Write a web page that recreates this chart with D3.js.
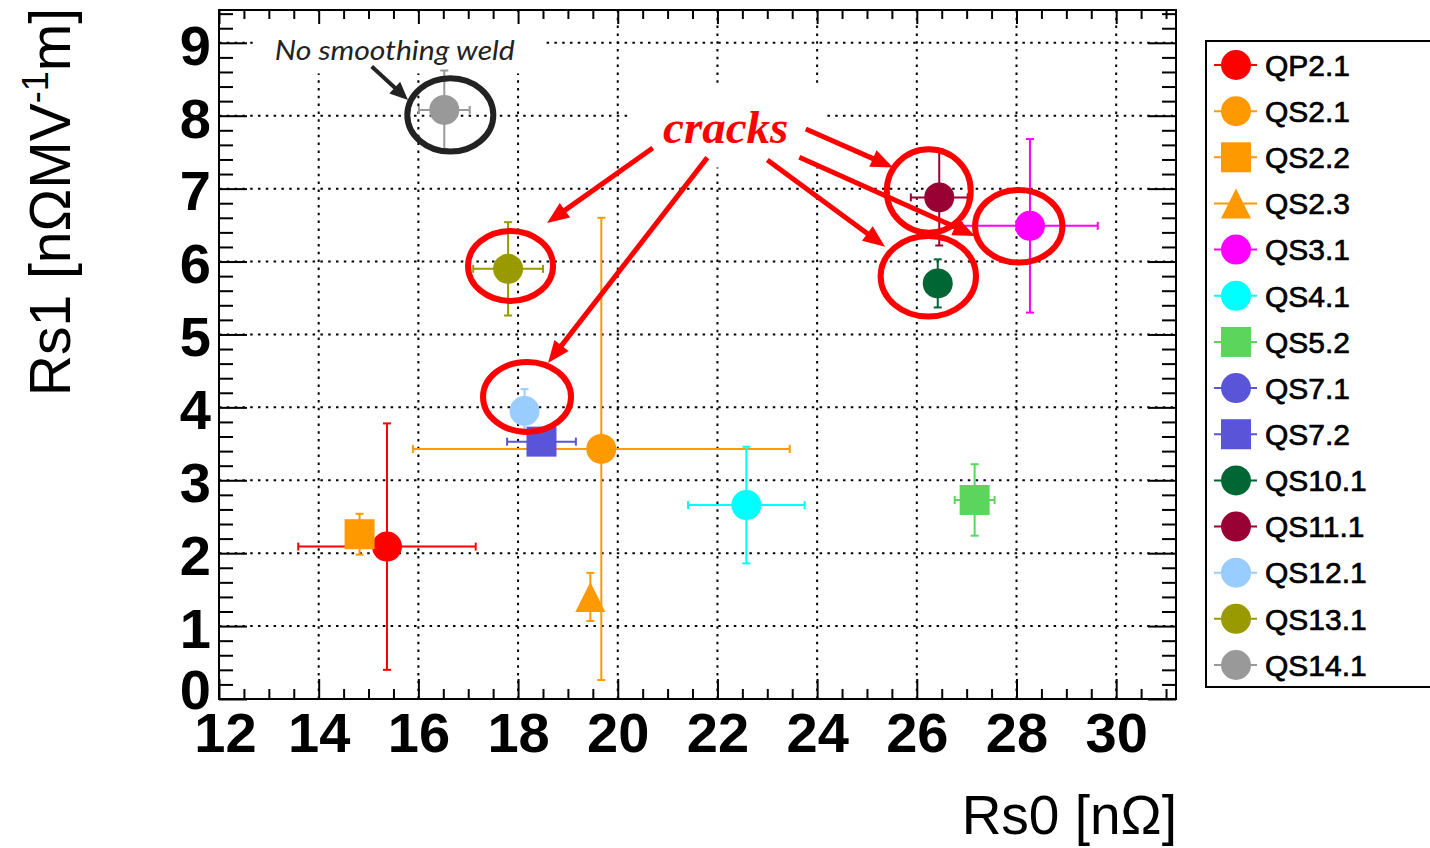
<!DOCTYPE html>
<html>
<head>
<meta charset="utf-8">
<script src="https://cdn.jsdelivr.net/npm/d3@7"></script>
<style>
  html, body { margin: 0; padding: 0; background: #ffffff; }
  svg { display: block; }
</style>
</head>
<body>
<svg id="chart" width="1430" height="848"></svg>
<script>
// ---- measured cavities: residual resistance Rs0 vs. field slope Rs1 ----
const cavities = ["QP2.1", "QS2.1", "QS2.2", "QS2.3", "QS3.1", "QS4.1", "QS5.2",
                  "QS7.1", "QS7.2", "QS10.1", "QS11.1", "QS12.1", "QS13.1", "QS14.1"];
const rs0    = [15.37, 19.67, 14.82, 19.45, 28.27, 22.58, 27.16, null, 18.47, 26.42, 26.45, 18.13, 17.80, 16.52];
const rs0Err = [ 1.78,  3.78,  0.00,  0.00,  1.36,  1.17,  0.40, null,  0.69,  0.00,  0.57,  0.00,  0.70,  0.51];
const rs1    = [ 2.09,  3.43,  2.26,  1.40,  6.49,  2.66,  2.73, null,  3.53,  5.70,  6.88,  3.95,  5.90,  8.08];
const rs1Err = [ 1.69,  3.17,  0.28,  0.33,  1.19,  0.80,  0.49, null,  0.00,  0.33,  0.66,  0.30,  0.64,  0.54];

// marker style per cavity
const colors = ["#ff0000", "#ff9900", "#ff9900", "#ff9900", "#ff00ff", "#00ffff", "#5bd55b",
                "#5a55d8", "#5a55d8", "#006633", "#990033", "#99ccff", "#999900", "#999999"];
const shapes = ["circle", "circle", "square", "triangle", "circle", "circle", "square",
                "circle", "square", "circle", "circle", "circle", "circle", "circle"];

const xTicks = [12, 14, 16, 18, 20, 22, 24, 26, 28, 30];
const yTicks = [0, 1, 2, 3, 4, 5, 6, 7, 8, 9];
const xDomain = [12, 31.2];
const yDomain = [0, 9.45];

// ---- annotations (data units) ----
const noteGroups = ["No smoothing weld", "cracks"];
const circled = [
  { x: 16.641, y: 8.011, rx: 43,   ry: 36.7, note: 0 },
  { x: 17.849, y: 5.940, rx: 42.5, ry: 35,   note: 1 },
  { x: 18.180, y: 4.143, rx: 44,   ry: 35,   note: 1 },
  { x: 26.240, y: 6.968, rx: 42,   ry: 41.7, note: 1 },
  { x: 26.231, y: 5.798, rx: 47.7, ry: 40.3, note: 1 },
  { x: 28.045, y: 6.484, rx: 43.7, ry: 36.3, note: 1 }
];
const pointers = [
  { x0: 15.064, y0: 8.674, x1: 15.792, y1: 8.217, note: 0 },
  { x0: 20.702, y0: 7.558, x1: 18.581, y1: 6.529, note: 1 },
  { x0: 21.797, y0: 7.425, x1: 18.601, y1: 4.609, note: 1 },
  { x0: 23.772, y0: 7.819, x1: 25.523, y1: 7.291, note: 1 },
  { x0: 23.643, y0: 7.431, x1: 27.168, y1: 6.351, note: 1 },
  { x0: 23.001, y0: 7.394, x1: 25.363, y1: 6.204, note: 1 }
];
const noteBoxes = [
  { x0: 12.76, x1: 18.54, y0: 8.58, y1: 9.42 },
  { x0: 20.25, x1: 24.12, y0: 7.29, y1: 8.40 }
];
const noteText = [
  { x: 13.12, y: 8.77 },
  { x: 20.91, y: 7.62 }
];
const noteColors = ["#222222", "#ff0000"];

// ---- layout ----
const svg = d3.select("#chart");
const x = d3.scaleLinear().domain(xDomain).range([219, 1176]);
const y = d3.scaleLinear().domain(yDomain).range([699, 10]);

const xMinor = d3.range(12, 31.2, 0.5).filter(v => !xTicks.includes(v));
const yMinor = d3.range(0, 9.45, 0.2).map(v => +v.toFixed(1)).filter(v => !yTicks.includes(v));

// grid
const grid = svg.append("g").attr("stroke", "#000").attr("stroke-width", 2)
  .attr("stroke-dasharray", "2.5 5.3");
grid.selectAll("line.vx").data(xTicks.filter(v => v > xDomain[0])).join("line")
  .attr("x1", d => x(d)).attr("x2", d => x(d))
  .attr("y1", y(yDomain[1])).attr("y2", y(0));
grid.selectAll("line.hy").data(yTicks.filter(v => v > 0)).join("line")
  .attr("x1", x(xDomain[0])).attr("x2", x(xDomain[1]))
  .attr("y1", d => y(d)).attr("y2", d => y(d));

// blank panels behind the annotation texts
svg.append("g").selectAll("rect").data(noteBoxes).join("rect")
  .attr("x", d => x(d.x0)).attr("width", d => x(d.x1) - x(d.x0))
  .attr("y", d => y(d.y1)).attr("height", d => y(d.y0) - y(d.y1))
  .attr("fill", "#fff");

// axes (ROOT style: ticks inside, on all four sides)
function styleAxis(g) {
  g.select(".domain").remove();
  g.selectAll(".tick line").attr("stroke", "#000").attr("stroke-width", 2);
}
const tickFont = "'Liberation Sans', Arial, Helvetica, sans-serif";

svg.append("g").attr("transform", `translate(0,${y(0)})`)
  .call(d3.axisBottom(x).tickValues(xMinor).tickSize(-10).tickFormat(""))
  .call(styleAxis);
const xAxis = svg.append("g").attr("transform", `translate(0,${y(0)})`)
  .call(d3.axisBottom(x).tickValues(xTicks).tickSize(-20).tickPadding(13).tickFormat(d3.format("d")))
  .call(styleAxis);
xAxis.selectAll(".tick text")
  .attr("font-family", tickFont).attr("font-size", 56).attr("font-weight", "bold")
  .attr("fill", "#000").attr("dy", "0.71em")
  .attr("dx", d => d === xDomain[0] ? 6 : 0);

svg.append("g").attr("transform", `translate(0,${y(yDomain[1])})`)
  .call(d3.axisTop(x).tickValues(xMinor).tickSize(-9).tickFormat(""))
  .call(styleAxis);
svg.append("g").attr("transform", `translate(0,${y(yDomain[1])})`)
  .call(d3.axisTop(x).tickValues(xTicks).tickSize(-14).tickFormat(""))
  .call(styleAxis);

svg.append("g").attr("transform", `translate(${x(xDomain[0])},0)`)
  .call(d3.axisLeft(y).tickValues(yMinor).tickSize(-14).tickFormat(""))
  .call(styleAxis);
const yAxis = svg.append("g").attr("transform", `translate(${x(xDomain[0])},0)`)
  .call(d3.axisLeft(y).tickValues(yTicks).tickSize(-28).tickPadding(8).tickFormat(d3.format("d")))
  .call(styleAxis);
yAxis.selectAll(".tick text")
  .attr("font-family", tickFont).attr("font-size", 56).attr("font-weight", "bold")
  .attr("fill", "#000").attr("dy", d => d === 0 ? "0.17em" : "0.38em");

svg.append("g").attr("transform", `translate(${x(xDomain[1])},0)`)
  .call(d3.axisRight(y).tickValues(yMinor).tickSize(-14).tickFormat(""))
  .call(styleAxis);
svg.append("g").attr("transform", `translate(${x(xDomain[1])},0)`)
  .call(d3.axisRight(y).tickValues(yTicks).tickSize(-28).tickFormat(""))
  .call(styleAxis);

// frame
svg.append("rect")
  .attr("x", x(xDomain[0])).attr("y", y(yDomain[1]))
  .attr("width", x(xDomain[1]) - x(xDomain[0])).attr("height", y(0) - y(yDomain[1]))
  .attr("fill", "none").attr("stroke", "#000").attr("stroke-width", 2);

// axis titles
svg.append("text")
  .attr("x", 1177).attr("y", 834).attr("text-anchor", "end")
  .attr("font-family", tickFont).attr("font-size", 55).attr("fill", "#000")
  .text("Rs0 [nΩ]");

const yTitle = svg.append("text")
  .attr("transform", "translate(70,8) rotate(-90)")
  .attr("text-anchor", "end")
  .attr("font-family", tickFont).attr("font-size", 57).attr("fill", "#000");
yTitle.append("tspan").text("Rs1 [nΩMV");
yTitle.append("tspan").attr("font-size", 36).attr("dy", -22).text("-1");
yTitle.append("tspan").attr("dy", 22).text("m]");

// ---- markers ----
const R = 15;
function marker(g, shape, cx, cy, color) {
  if (shape === "circle") {
    g.append("circle").attr("cx", cx).attr("cy", cy).attr("r", R).attr("fill", color);
  } else if (shape === "square") {
    g.append("rect").attr("x", cx - R).attr("y", cy - R)
      .attr("width", 2 * R).attr("height", 2 * R).attr("fill", color);
  } else {
    g.append("path")
      .attr("d", `M${cx},${cy - R}L${cx + R},${cy + R}L${cx - R},${cy + R}Z`)
      .attr("fill", color);
  }
}

const points = cavities.map((name, i) => ({
  name, x: rs0[i], xe: rs0Err[i], y: rs1[i], ye: rs1Err[i],
  color: colors[i], shape: shapes[i]
})).filter(d => d.x != null && d.y != null);

// error bars with end caps
const cap = 4;
const errG = svg.append("g").attr("stroke-width", 2);
points.forEach(d => {
  const g = errG.append("g").attr("stroke", d.color);
  if (d.xe > 0) {
    const xa = x(d.x - d.xe), xb = x(d.x + d.xe), yc = y(d.y);
    g.append("line").attr("x1", xa).attr("x2", xb).attr("y1", yc).attr("y2", yc);
    g.append("line").attr("x1", xa).attr("x2", xa).attr("y1", yc - cap).attr("y2", yc + cap);
    g.append("line").attr("x1", xb).attr("x2", xb).attr("y1", yc - cap).attr("y2", yc + cap);
  }
  if (d.ye > 0) {
    const ya = y(d.y - d.ye), yb = y(d.y + d.ye), xc = x(d.x);
    g.append("line").attr("x1", xc).attr("x2", xc).attr("y1", ya).attr("y2", yb);
    g.append("line").attr("x1", xc - cap).attr("x2", xc + cap).attr("y1", ya).attr("y2", ya);
    g.append("line").attr("x1", xc - cap).attr("x2", xc + cap).attr("y1", yb).attr("y2", yb);
  }
});

const markG = svg.append("g");
points.forEach(d => marker(markG, d.shape, x(d.x), y(d.y), d.color));

// ---- legend ----
const legend = svg.append("g");
legend.append("rect")
  .attr("x", 1206).attr("y", 41).attr("width", 260).attr("height", 646)
  .attr("fill", "#fff").attr("stroke", "#000").attr("stroke-width", 2);
const rowY = d3.scalePoint().domain(cavities).range([65, 665]);
cavities.forEach((name, i) => {
  const cy = rowY(name);
  const g = legend.append("g");
  g.append("line").attr("x1", 1214).attr("x2", 1257).attr("y1", cy).attr("y2", cy)
    .attr("stroke", colors[i]).attr("stroke-width", 2);
  marker(g, shapes[i], 1236, cy, colors[i]);
  g.append("text").attr("x", 1265).attr("y", cy).attr("dy", "0.36em")
    .attr("font-family", tickFont).attr("font-size", 30)
    .attr("fill", "#000").attr("stroke", "#000").attr("stroke-width", 0.7)
    .text(name);
});

// ---- annotations ----
const ann = svg.append("g");
circled.forEach(c => {
  ann.append("ellipse")
    .attr("cx", x(c.x)).attr("cy", y(c.y)).attr("rx", c.rx).attr("ry", c.ry)
    .attr("fill", "none").attr("stroke", noteColors[c.note]).attr("stroke-width", 6);
});
pointers.forEach(p => {
  const color = noteColors[p.note];
  const hl = p.note === 0 ? 18 : 22, hw = p.note === 0 ? 8 : 9;
  const ax = x(p.x0), ay = y(p.y0), bx = x(p.x1), by = y(p.y1);
  const len = Math.hypot(bx - ax, by - ay);
  const ux = (bx - ax) / len, uy = (by - ay) / len;
  const baseX = bx - ux * hl, baseY = by - uy * hl;
  ann.append("line").attr("x1", ax).attr("y1", ay).attr("x2", baseX + ux * 2).attr("y2", baseY + uy * 2)
    .attr("stroke", color).attr("stroke-width", p.note === 0 ? 4 : 5);
  ann.append("path")
    .attr("d", `M${bx},${by}L${baseX - uy * hw},${baseY + ux * hw}L${baseX + uy * hw},${baseY - ux * hw}Z`)
    .attr("fill", color);
});

ann.append("text")
  .attr("x", x(noteText[0].x)).attr("y", y(noteText[0].y))
  .attr("font-family", "Lato, 'Open Sans', sans-serif").attr("font-style", "italic")
  .attr("font-size", 27).attr("fill", "#222")
  .attr("textLength", 240).attr("lengthAdjust", "spacingAndGlyphs")
  .text(noteGroups[0]);
ann.append("text")
  .attr("x", x(noteText[1].x)).attr("y", y(noteText[1].y))
  .attr("font-family", "'Liberation Serif', 'Times New Roman', serif")
  .attr("font-style", "italic").attr("font-weight", "bold")
  .attr("font-size", 47).attr("fill", "#ff0000")
  .text(noteGroups[1]);
</script>
</body>
</html>
